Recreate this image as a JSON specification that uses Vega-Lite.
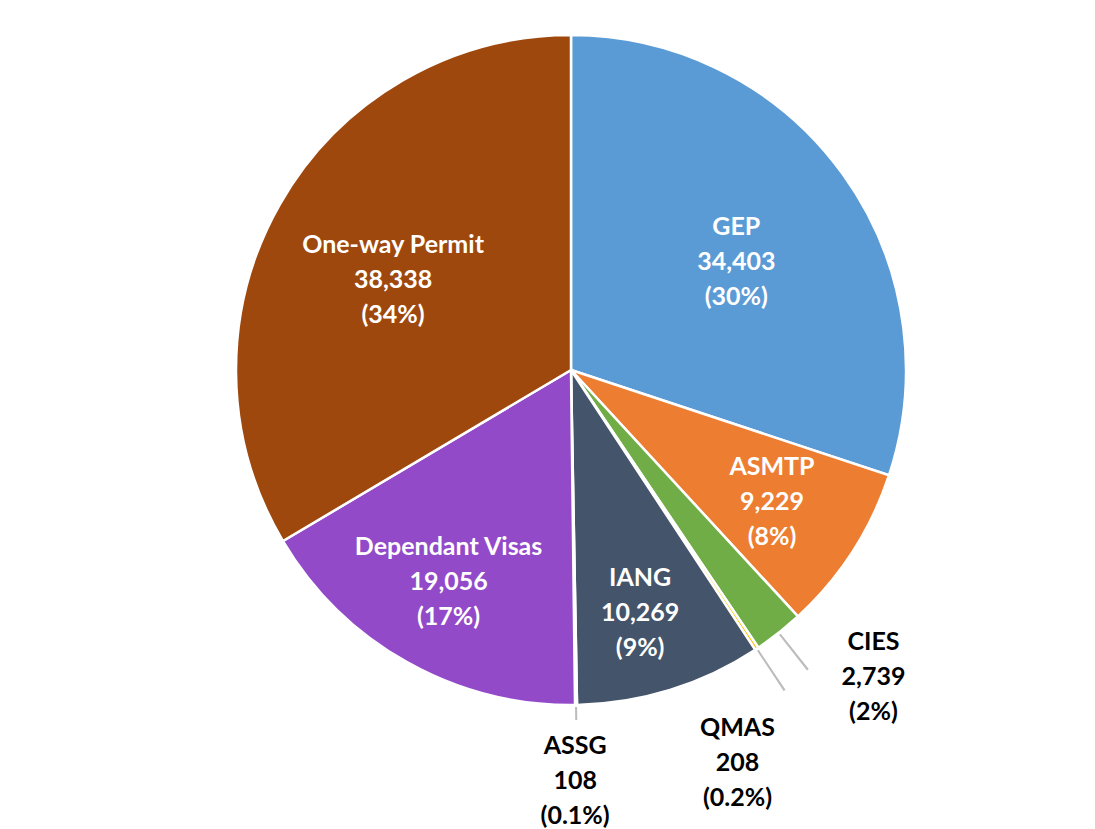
{
  "$schema": "https://vega.github.io/schema/vega-lite/v6.json",
  "autosize": "none",
  "width": 1126,
  "height": 940,
  "padding": {"left": 8, "top": -100, "right": -39, "bottom": -11},
  "background": "white",
  "config": {"view": {"stroke": null}, "text": {"font": "Lato", "fontWeight": "bold", "fontSize": 25, "lineHeight": 35, "lineBreak": "\n", "align": "center", "baseline": "middle"}},
  "data": {"values": [
    {"cat": "GEP", "value": 34403, "order": 1, "label": "GEP\n34,403\n(30%)"},
    {"cat": "ASMTP", "value": 9229, "order": 2, "label": "ASMTP\n9,229\n(8%)"},
    {"cat": "CIES", "value": 2739, "order": 3, "label": "CIES\n2,739\n(2%)"},
    {"cat": "QMAS", "value": 208, "order": 4, "label": "QMAS\n208\n(0.2%)"},
    {"cat": "IANG", "value": 10269, "order": 5, "label": "IANG\n10,269\n(9%)"},
    {"cat": "ASSG", "value": 108, "order": 6, "label": "ASSG\n108\n(0.1%)"},
    {"cat": "Dependant Visas", "value": 19056, "order": 7, "label": "Dependant Visas\n19,056\n(17%)"},
    {"cat": "One-way Permit", "value": 38338, "order": 8, "label": "One-way Permit\n38,338\n(34%)"}
  ]},
  "encoding": {
    "theta": {"field": "value", "type": "quantitative", "stack": true},
    "order": {"field": "order", "type": "quantitative"}
  },
  "layer": [
    {
      "mark": {"type": "arc", "radius": 335, "stroke": "white", "strokeWidth": 2.5},
      "encoding": {
        "color": {"field": "cat", "type": "nominal", "legend": null,
          "scale": {"domain": ["GEP", "ASMTP", "CIES", "QMAS", "IANG", "ASSG", "Dependant Visas", "One-way Permit"],
                    "range": ["#5B9BD5", "#ED7D31", "#70AD47", "#FFC000", "#44546A", "#264478", "#924AC9", "#9E480E"]}}
      }
    },
    {
      "mark": {"type": "arc", "radius": 382, "radius2": 337, "thetaOffset": -0.6538, "theta2Offset": -0.6538, "fill": "#a6a6a6", "fillOpacity": 0.75},
      "encoding": {"opacity": {"condition": {"test": "datum.cat === 'ASSG'", "value": 1}, "value": 0}}
    },
    {
      "mark": {"type": "arc", "radius": 385, "radius2": 337, "thetaOffset": -0.5730, "theta2Offset": -0.5730, "fill": "#a6a6a6", "fillOpacity": 0.75},
      "encoding": {"opacity": {"condition": {"test": "datum.cat === 'ASSG'", "value": 1}, "value": 0}}
    },
    {
      "mark": {"type": "arc", "radius": 350, "radius2": 337, "fill": "#a6a6a6", "fillOpacity": 0.75},
      "encoding": {"opacity": {"condition": {"test": "datum.cat === 'ASSG'", "value": 1}, "value": 0}}
    },
    {
      "mark": {"type": "text", "radius": 199, "dx": 4, "dy": -26, "color": "white"},
      "encoding": {"text": {"condition": {"test": "datum.cat === 'GEP'", "field": "label"}, "value": ""}}
    },
    {
      "mark": {"type": "text", "radius": 199, "dx": -5, "dy": -27, "color": "white"},
      "encoding": {"text": {"condition": {"test": "datum.cat === 'One-way Permit'", "field": "label"}, "value": ""}}
    },
    {
      "mark": {"type": "text", "radius": 244, "dx": -4, "dy": -35, "color": "white"},
      "encoding": {"text": {"condition": {"test": "datum.cat === 'ASMTP'", "field": "label"}, "value": ""}}
    },
    {
      "mark": {"type": "text", "radius": 244, "dx": -3, "dy": -36, "color": "white"},
      "encoding": {"text": {"condition": {"test": "datum.cat === 'Dependant Visas'", "field": "label"}, "value": ""}}
    },
    {
      "mark": {"type": "text", "radius": 244, "dx": -3, "dy": -25, "color": "white"},
      "encoding": {"text": {"condition": {"test": "datum.cat === 'IANG'", "field": "label"}, "value": ""}}
    },
    {
      "mark": {"type": "text", "radius": 420, "dx": 42, "dy": -57, "color": "black"},
      "encoding": {"text": {"condition": {"test": "datum.cat === 'CIES'", "field": "label"}, "value": ""}}
    },
    {
      "mark": {"type": "text", "radius": 430, "dx": -72, "dy": 0, "color": "black"},
      "encoding": {"text": {"condition": {"test": "datum.cat === 'QMAS'", "field": "label"}, "value": ""}}
    },
    {
      "mark": {"type": "text", "radius": 409, "dx": -2, "dy": -33, "color": "black"},
      "encoding": {"text": {"condition": {"test": "datum.cat === 'ASSG'", "field": "label"}, "value": ""}}
    }
  ]
}
